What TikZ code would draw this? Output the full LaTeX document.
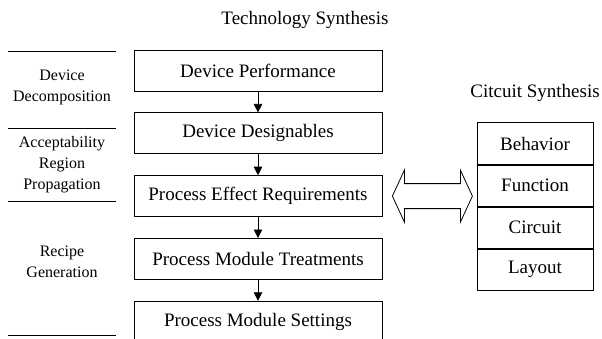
\documentclass[tikz,border=0pt]{standalone}
\usepackage{fontspec}
\setmainfont{Liberation Serif}
\usetikzlibrary{positioning,calc,arrows.meta}

\begin{document}
\begin{tikzpicture}[x=1pt,y=-1pt,>={Triangle[length=8.5pt,width=8.5pt]},line width=0.8pt,
	box/.style={draw,minimum width=248pt,minimum height=41pt,inner sep=0pt,font=\fontsize{19}{22}\selectfont},
	cbox/.style={draw,minimum width=116pt,minimum height=41.3pt,inner sep=0pt,font=\fontsize{19}{22}\selectfont},
	lbl/.style={align=center,font=\fontsize{16}{21}\selectfont},
	head/.style={font=\fontsize{19}{22}\selectfont}]
	\useasboundingbox (0,0) rectangle (602,338);
	% technology side
	\node[head] (tech) at (305,20) {Technology Synthesis};
	\node[box] (perf) at (258,70.5) {Device Performance};
	\node[box,below=21pt of perf] (desg) {Device Designables};
	\node[box,below=21pt of desg] (effect) {Process Effect Requirements};
	\node[box,below=21pt of effect] (treat) {Process Module Treatments};
	\node[box,below=21pt of treat] (sett) {Process Module Settings};
	\foreach \a/\b in {perf/desg,desg/effect,effect/treat,treat/sett}
		\draw[->] (\a) -- (\b);
	% stages on the left
	\foreach \y in {51,128,201,335}
		\draw (8,\y) -- (116,\y);
	\node[lbl] (decomp) at (62,87) {Device\\Decomposition};
	\node[lbl] (accept) at (62,165) {Acceptability\\Region\\Propagation};
	\node[lbl] (recipe) at (62,262) {Recipe\\Generation};
	% circuit side
	\node[head] (circ) at (535,93) {Citcuit Synthesis};
	\node[cbox] (behav) at (535,143.5) {Behavior};
	\node[cbox,below=0pt of behav] (func) {Function};
	\node[cbox,below=0pt of func] (circuit) {Circuit};
	\node[cbox,below=0pt of circuit] (layout) {Layout};
	% double arrow
	\coordinate (lt) at ($(effect.east)+(10,0)$);
	\draw (lt) -- ++(12,-26) -- ++(0,13.5) -- ++(56,0) -- ++(0,-13.5) -- ++(12,26)
		-- ++(-12,26) -- ++(0,-13.5) -- ++(-56,0) -- ++(0,13.5) -- cycle;
\end{tikzpicture}
\end{document}
